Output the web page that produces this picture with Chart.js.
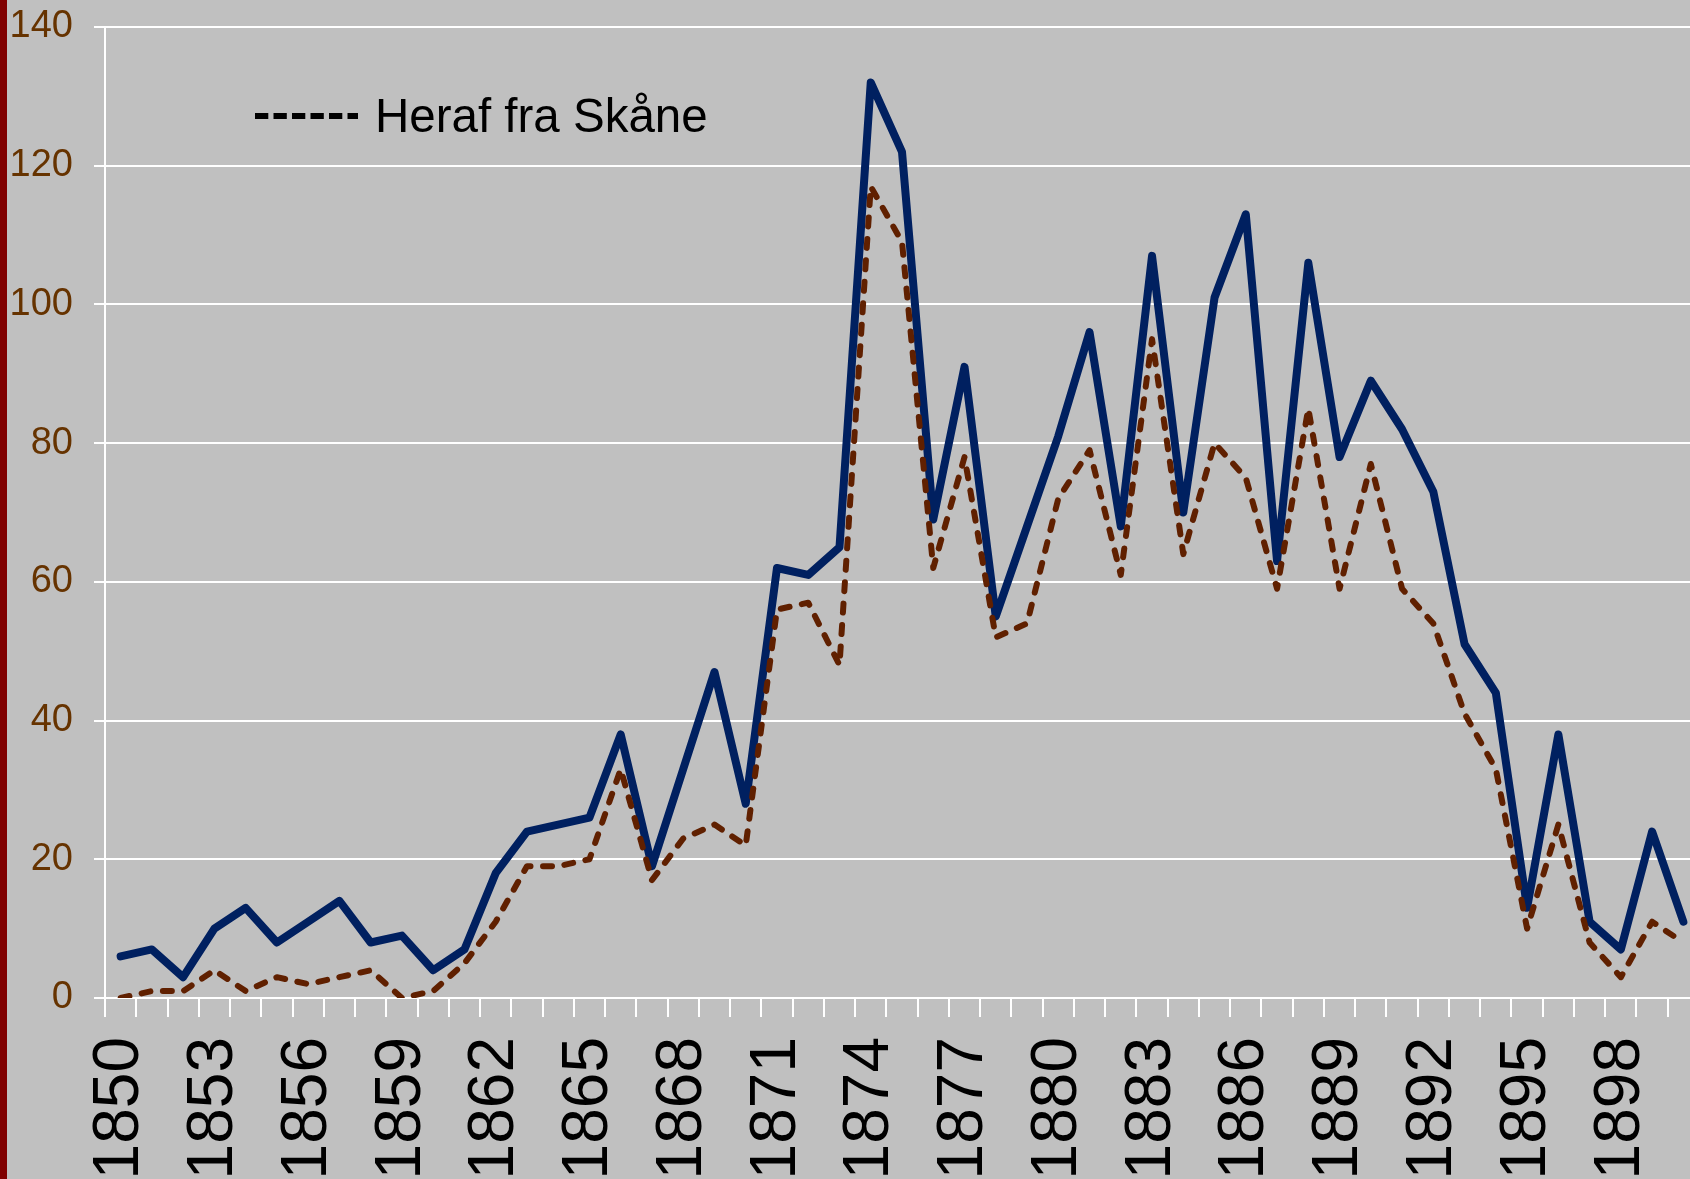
<!DOCTYPE html>
<html>
<head>
<meta charset="utf-8">
<script src="https://cdn.jsdelivr.net/npm/chart.js@4.4.1/dist/chart.umd.min.js"></script>
<style>
  html, body { margin: 0; padding: 0; background: #c0c0c0; overflow: hidden; }
  #wrap { position: absolute; left: 0; top: 0; width: 1700px; height: 1179px; }
  #bar { position: absolute; left: 0; top: 0; width: 7px; height: 1179px; background: #800000; z-index: 2; }
</style>
</head>
<body>
<div id="bar"></div>
<div id="wrap"><canvas id="chart"></canvas></div>
<script>
// years 1850-1900
const years = [];
for (let y = 1850; y <= 1900; y++) years.push(String(y));

const total = [6, 7, 3, 10, 13, 8, 11, 14, 8, 9,
               4, 7, 18, 24, 25, 26, 38, 19, 33, 47,
               28, 62, 61, 65, 132, 122, 69, 91, 55, 68,
               81, 96, 68, 107, 70, 101, 113, 63, 106, 78,
               89, 82, 73, 51, 44, 13, 38, 11, 7, 24,
               11];

const skane = [0, 1, 1, 4, 1, 3, 2, 3, 4, 0,
               1, 5, 11, 19, 19, 20, 33, 17, 23, 25,
               22, 56, 57, 48, 117, 109, 62, 78, 52, 54,
               72, 79, 61, 95, 64, 80, 75, 59, 85, 59,
               77, 59, 54, 41, 33, 10, 25, 8, 3, 11,
               8];

const yTicks = [0, 20, 40, 60, 80, 100, 120, 140];
const legendText = 'Heraf fra Skåne';

// legend drawn inside the plot, top left
const legendPlugin = {
    id: 'skaneLegend',
    afterDraw(chart) {
        const ctx = chart.ctx;
        const a = chart.chartArea;
        ctx.save();
        ctx.strokeStyle = '#000';
        ctx.lineWidth = 6;
        ctx.setLineDash([13.3, 5.2]);
        ctx.beginPath();
        ctx.moveTo(a.left + 150, a.top + 89);
        ctx.lineTo(a.left + 253, a.top + 89);
        ctx.stroke();
        ctx.setLineDash([]);
        ctx.fillStyle = '#000';
        ctx.font = '47.5px "Liberation Sans", Arial, sans-serif';
        ctx.textBaseline = 'alphabetic';
        ctx.fillText(legendText, a.left + 270, a.top + 105);
        ctx.restore();
    }
};

new Chart(document.getElementById('chart'), {
    type: 'line',
    data: {
        labels: years,
        datasets: [{
            label: 'I alt',
            data: total,
            borderColor: '#002060',
            borderWidth: 8,
            pointRadius: 0,
            tension: 0,
            borderJoinStyle: 'round',
            borderCapStyle: 'round',
            order: 1
        }, {
            label: legendText,
            data: skane,
            borderColor: '#602000',
            borderWidth: 6,
            borderDash: [9, 12.5],
            borderCapStyle: 'round',
            borderJoinStyle: 'round',
            pointRadius: 0,
            tension: 0,
            order: 0
        }]
    },
    options: {
        responsive: true,
        maintainAspectRatio: false,
        animation: false,
        layout: { padding: { top: 27, left: 0, right: 1, bottom: 0 } },
        plugins: {
            legend: { display: false },
            tooltip: { enabled: false }
        },
        scales: {
            x: {
                offset: true,
                afterFit: (s) => { s.height = 181; s.paddingLeft = 0; s.paddingRight = 0; },
                grid: {
                    offset: true,
                    drawOnChartArea: false,
                    drawTicks: true,
                    tickLength: 19,
                    tickColor: '#ffffff',
                    tickWidth: 2,
                    color: '#ffffff',
                    lineWidth: 2
                },
                border: { display: true, color: '#ffffff', width: 2 },
                ticks: {
                    autoSkip: false,
                    minRotation: 90,
                    maxRotation: 90,
                    padding: 20,
                    color: '#000000',
                    font: { family: '"Liberation Sans", Arial, sans-serif', size: 64 },
                    callback: function (val, i) { return i % 3 === 0 ? this.getLabelForValue(val) : ''; }
                }
            },
            y: {
                min: 0,
                max: 140,
                afterBuildTicks: (axis) => { axis.ticks = yTicks.map(v => ({ value: v })); },
                afterFit: (s) => { s.width = 105; s.paddingTop = 0; s.paddingBottom = 0; },
                grid: {
                    color: '#ffffff',
                    lineWidth: 2,
                    tickLength: 11,
                    tickColor: '#ffffff'
                },
                border: { display: true, color: '#ffffff', width: 2 },
                ticks: {
                    padding: 21,
                    color: '#663300',
                    font: { family: '"Liberation Sans", Arial, sans-serif', size: 38 }
                }
            }
        }
    },
    plugins: [legendPlugin]
});
</script>
</body>
</html>
